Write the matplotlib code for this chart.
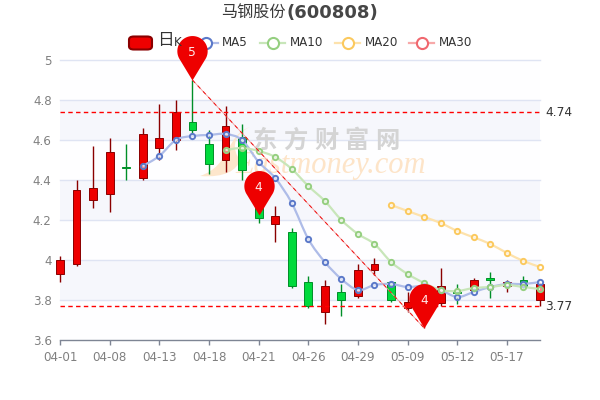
import matplotlib
matplotlib.use("Agg")
import matplotlib.pyplot as plt
import numpy as np
from matplotlib.lines import Line2D
from matplotlib.patches import FancyBboxPatch, PathPatch
from matplotlib.path import Path

CJK = ["Noto Sans CJK SC", "DejaVu Sans"]

tick_labels = ["04-01", "04-08", "04-13", "04-18", "04-21", "04-26", "04-29", "05-09", "05-12", "05-17"]
y_ticks = [3.6, 3.8, 4.0, 4.2, 4.4, 4.6, 4.8, 5.0]
y_tick_labels = ["3.6", "3.8", "4", "4.2", "4.4", "4.6", "4.8", "5"]

opens = [3.93, 3.98, 4.30, 4.33, 4.465, 4.41, 4.56, 4.60, 4.69, 4.58, 4.50, 4.615, 4.28, 4.18, 4.14,
         3.89, 3.74, 3.84, 3.82, 3.95, 3.89, 3.76, 3.76, 3.785, 3.84, 3.85, 3.91, 3.87, 3.90, 3.80]
closes = [4.00, 4.35, 4.36, 4.54, 4.46, 4.63, 4.61, 4.74, 4.65, 4.48, 4.67, 4.45, 4.21, 4.22, 3.87,
          3.77, 3.87, 3.80, 3.95, 3.98, 3.80, 3.79, 3.80, 3.87, 3.835, 3.90, 3.90, 3.89, 3.87, 3.88]
highs = [4.02, 4.40, 4.57, 4.61, 4.58, 4.66, 4.78, 4.80, 4.90, 4.65, 4.77, 4.68, 4.30, 4.27, 4.16,
         3.92, 3.90, 3.88, 3.98, 4.01, 3.89, 3.84, 3.86, 3.96, 3.88, 3.91, 3.94, 3.90, 3.92, 3.885]
lows = [3.89, 3.97, 4.26, 4.24, 4.40, 4.40, 4.50, 4.55, 4.62, 4.43, 4.44, 4.40, 4.185, 4.09, 3.86,
        3.76, 3.68, 3.72, 3.81, 3.925, 3.79, 3.74, 3.66, 3.77, 3.78, 3.845, 3.81, 3.84, 3.86, 3.77]

ma5 = [None] * 5 + [4.47, 4.52, 4.60, 4.62, 4.625, 4.63, 4.60, 4.49, 4.41, 4.285, 4.105, 3.99, 3.905, 3.85,
                    3.875, 3.88, 3.865, 3.87, 3.85, 3.815, 3.84, 3.865, 3.88, 3.88, 3.89]
ma10 = [None] * 10 + [4.55, 4.56, 4.545, 4.515, 4.455, 4.37, 4.295, 4.20, 4.13, 4.08, 3.99, 3.93, 3.885,
                      3.85, 3.845, 3.86, 3.865, 3.875, 3.865, 3.855]
ma20 = [None] * 20 + [4.275, 4.245, 4.215, 4.185, 4.145, 4.113, 4.08, 4.035, 3.995, 3.965]

pin_index = [8, 12, 22]
pin_value = [4.90, 4.225, 3.66]
pin_label = ["5", "4", "4"]
ref_high = 4.74
ref_low = 3.77

RED, RED_EDGE = "#ee0000", "#8a0000"
GREEN, GREEN_EDGE = "#00da3c", "#008f28"
GREY = "#808080"


def fx(px):
    return px / 600


def fy(py):
    return 1 - py / 400


def smooth_path(xs, ys):
    """Bezier curve through the given points, like a smoothed echarts line."""
    pts = np.column_stack([xs, ys])
    verts, codes = [pts[0]], [Path.MOVETO]
    for i in range(len(pts) - 1):
        before = pts[max(i - 1, 0)]
        after = pts[min(i + 2, len(pts) - 1)]
        verts += [pts[i] + (pts[i + 1] - before) / 6, pts[i + 1] - (after - pts[i]) / 6, pts[i + 1]]
        codes += [Path.CURVE4] * 3
    return Path(verts, codes)


def pin_marker():
    t = np.linspace(-35, 215, 60) * np.pi / 180
    head_x, head_y = np.cos(t), 1.93 + np.sin(t)
    verts = [(0, 0)] + list(zip(head_x, head_y)) + [(0, 0)]
    return Path(verts)


fig = plt.figure(figsize=(6, 4), dpi=100)
ax = fig.add_axes([fx(60), fy(340), 480 / 600, 280 / 400])
ax.set_xlim(0, 29)
ax.set_ylim(3.6, 5.0)
ax.set_zorder(2)
ax.patch.set_alpha(0)

# split areas and grid
for i in range(len(y_ticks) - 1):
    ax.axhspan(y_ticks[i], y_ticks[i + 1], color="#f6f7fc" if i % 2 else "#fefeff", lw=0, zorder=0)
for value in y_ticks[1:]:
    ax.axhline(value, color="#dfe4f3", lw=1, zorder=1, clip_on=False)

# watermark
swoosh = Path([(fx(250), fy(127)), (fx(225), fy(135)), (fx(232), fy(165)), (fx(200), fy(176)),
               (fx(225), fy(178)), (fx(237), fy(170)), (fx(240), fy(160)),
               (fx(232), fy(150)), (fx(232), fy(135)), (fx(250), fy(127))],
              [Path.MOVETO] + [Path.CURVE4] * 9)
ax.add_patch(PathPatch(swoosh, transform=fig.transFigure, fc="#fde6cc", ec="none", zorder=1.5, clip_on=False))
for i, ch in enumerate("东方财富网"):
    ax.text(fx(265 + i * 30.5), fy(141), ch, transform=fig.transFigure, family=CJK, fontsize=17.5, fontweight="bold",
            color="#d4d4d4", ha="center", va="center", zorder=1.5)
ax.text(fx(235), fy(173), "Eastmoney.com", transform=fig.transFigure, family="Liberation Serif", style="italic",
        fontsize=22, color="#fde4c8", ha="left", va="baseline", zorder=1.5)

# candles
x = np.arange(len(opens))
up = np.array(closes) >= np.array(opens)
ax.vlines(x, lows, highs, colors=[RED_EDGE if u else GREEN_EDGE for u in up], lw=1, zorder=3, clip_on=False)
ax.bar(x, np.abs(np.array(closes) - np.array(opens)), bottom=np.minimum(opens, closes), width=0.47,
       color=[RED if u else GREEN for u in up], edgecolor=[RED_EDGE if u else GREEN_EDGE for u in up],
       lw=0.7, zorder=4, clip_on=False)

# moving averages
for series, line_color, ring_color in [(ma5, "#aebce8", "#5b79c9"), (ma10, "#c8e6b9", "#95cf80"),
                                       (ma20, "#fde2ac", "#fbc95e")]:
    idx = [i for i, v in enumerate(series) if v is not None]
    vals = [series[i] for i in idx]
    ax.add_patch(PathPatch(smooth_path(idx, vals), fc="none", ec=line_color, lw=1.6, zorder=5, clip_on=False))
    ax.plot(idx, vals, ls="none", marker="o", ms=3.8, mew=1.4, mec=ring_color, mfc=(1, 1, 1, 0.55),
            zorder=6, clip_on=False)

# reference lines
for level in (ref_high, ref_low):
    ax.plot([0, 29], [level, level], color="#ff0000", lw=1, dashes=(3.2, 2.4), zorder=7, clip_on=False)
    ax.annotate(f"{level:.2f}", (29, level), xytext=(4, 0), textcoords="offset points", fontsize=8.8,
                color="#333333", va="center", annotation_clip=False)

# diagonal between the first and last pin
ax.plot([pin_index[0], pin_index[2]], [pin_value[0], pin_value[2]], color="#f29a9a", lw=0.6, zorder=7)
ax.plot([pin_index[0], pin_index[2]], [pin_value[0], pin_value[2]], color="#f01010", lw=0.7,
        dashes=(4, 4), zorder=7)

# pins
for i, v, label in zip(pin_index, pin_value, pin_label):
    ax.plot([i], [v], marker=pin_marker(), ms=64, mfc=RED, mec="none", zorder=9, clip_on=False)
    ax.annotate(label, (i, v), xytext=(0, 19.5), textcoords="offset points", ha="center", va="center",
                color="#ffe9e9", fontsize=8.8, zorder=10, annotation_clip=False)

# axes
for side in ("top", "left", "right"):
    ax.spines[side].set_visible(False)
ax.spines["bottom"].set_color("#7e8594")
ax.spines["bottom"].set_linewidth(1)
ax.set_xticks(np.arange(0, 30, 3), tick_labels)
ax.set_yticks(y_ticks, y_tick_labels)
ax.tick_params(axis="x", length=3.6, width=1, color="#7e8594", labelcolor=GREY, labelsize=8.6, pad=4)
ax.tick_params(axis="y", length=0, labelcolor=GREY, labelsize=8.6, pad=6)

# title
fig.text(fx(286), fy(13), "马钢股份", family=CJK, fontsize=11.6, color="#3a3a3a", ha="right", va="center")
fig.text(fx(286), fy(13), "(600808)", fontsize=13, fontweight="bold", color="#464646", ha="left", va="center")

# legend, drawn by hand so the pin can sit over it
fig.add_artist(FancyBboxPatch((fx(129), fy(49.5)), 23 / 600, 13 / 400, boxstyle="round,pad=0,rounding_size=0.008",
                              transform=fig.transFigure, fc=RED, ec=RED_EDGE, lw=1.5, zorder=1))
fig.text(fx(157), fy(40.5), "日", family=CJK, fontsize=12, color="#333333", va="center")
fig.text(fx(174), fy(43), "K", fontsize=8.6, color="#333333", va="center")
for left, name, line_color, ring_color, text_x in [(193, "MA5", "#aebce8", "#5b79c9", 222),
                                                   (260, "MA10", "#c8e6b9", "#95cf80", 290),
                                                   (335, "MA20", "#fde2ac", "#fbc95e", 365),
                                                   (409, "MA30", "#f7a9a9", "#f0686f", 439)]:
    fig.add_artist(Line2D([fx(left), fx(left + 25)], [fy(43), fy(43)], color=line_color, lw=1.6,
                          transform=fig.transFigure, zorder=1))
    fig.add_artist(Line2D([fx(left + 12.5)], [fy(43)], ls="none", marker="o", ms=8, mew=1.5, mec=ring_color,
                          mfc="white", transform=fig.transFigure, zorder=1))
    fig.text(fx(text_x), fy(43), name, fontsize=8.6, color="#333333", va="center")

fig.savefig("out.png", dpi=100)
